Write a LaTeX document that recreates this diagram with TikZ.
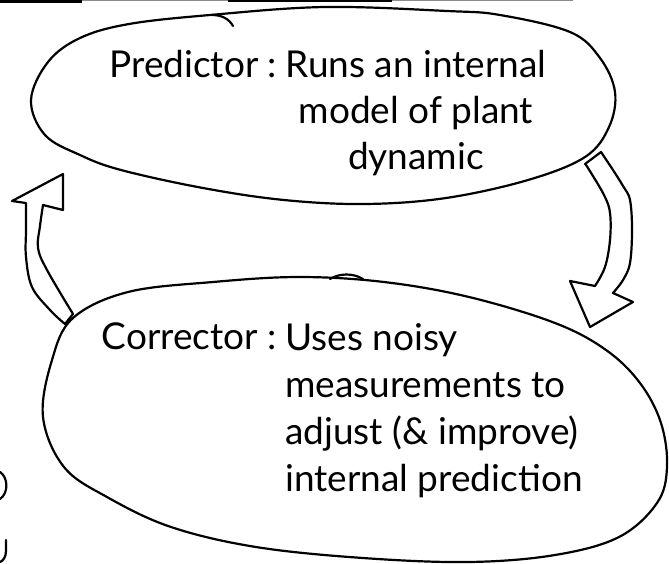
\documentclass[tikz,border=0pt]{standalone}
\usepackage{fontspec}
\setmainfont{Lato}
\usetikzlibrary{positioning}

\begin{document}
\begin{tikzpicture}[x=1pt, y=-1pt,
    pen/.style={line width=2.2pt, line join=round, line cap=round},
    hand/.style={inner sep=0pt, font=\fontsize{37}{46}\selectfont}]
  \useasboundingbox (0,0) rectangle (669,563);

  % scan edge
  \fill[black] (0,0) rectangle (82,3);
  \fill[black!45] (82,0) rectangle (573,1);
  \fill[black] (228,0) rectangle (392,1.6);

  % predictor bubble
  \draw[pen] plot[smooth cycle, tension=0.6] coordinates {
    (31,100) (45,135) (80,155) (121,170) (203,188) (284,200) (365,204)
    (446,198) (528,180) (585,157) (609,127) (615,92) (600,58) (570,32)
    (500,15) (447,11) (325,7) (210,15) (129,24) (80,38) (48,62)};
  \draw[pen] (212,15) .. controls (222,15) and (229,19) .. (233,26);
  \node[hand, align=center, anchor=north] (predbody) at (416,45)
    {\strut Runs an internal\\model of plant\\dynamic};
  \node[hand, left=8pt of predbody.north west, anchor=north east] (pred)
    {\strut Predictor :};

  % corrector bubble
  \draw[pen] plot[smooth cycle, tension=0.6] coordinates {
    (73,318) (52,360) (43,417) (64,467) (107,497) (171,527) (256,547)
    (363,558) (469,562) (555,555) (619,537) (657,503) (667,467) (661,423)
    (640,383) (606,350) (555,323) (469,297) (384,282) (299,277) (213,282)
    (128,292)};
  \draw[pen] (330,279) .. controls (340,273) and (353,273) .. (363,279);
  \node[hand, font=\fontsize{37}{47}\selectfont, align=left, anchor=north west]
    (corrbody) at (285,317)
    {\strut Uses noisy\\measurements to\\adjust (\& improve)\\internal prediction};
  \node[hand, left=8pt of corrbody.north west, anchor=north east] (corr)
    {\strut Corrector :};

  % back to the predictor
  \draw[pen] (65,324) -- (73,314)
    -- plot[smooth, tension=0.6] coordinates {(73,314) (47,270) (38,248) (40,226) (43,205)}
    -- (63,210) -- (63,174) -- (12,201) -- (26,203)
    -- plot[smooth, tension=0.6] coordinates {(26,203) (26,230) (26,257) (32,287) (50,310) (65,324)}
    -- cycle;

  % on to the corrector
  \draw[pen] (585,164) -- (601,152)
    -- plot[smooth, tension=0.6] coordinates {(601,152) (613,170) (623,186) (630,200) (632,230) (630,263) (623,280) (613,293)}
    -- (633,302) -- (590,327) -- (570,281) -- (595,286)
    -- plot[smooth, tension=0.6] coordinates {(595,286) (605,267) (610,240) (610,213) (604,195) (588,168) (585,164)}
    -- cycle;

  % cut-off strokes at the left edge
  \draw[pen] (0,472) .. controls (8,477) and (9,493) .. (0,499);
  \draw[pen] (6,540) -- (6,551) .. controls (6,557) and (3,561) .. (0,562);
\end{tikzpicture}
\end{document}
